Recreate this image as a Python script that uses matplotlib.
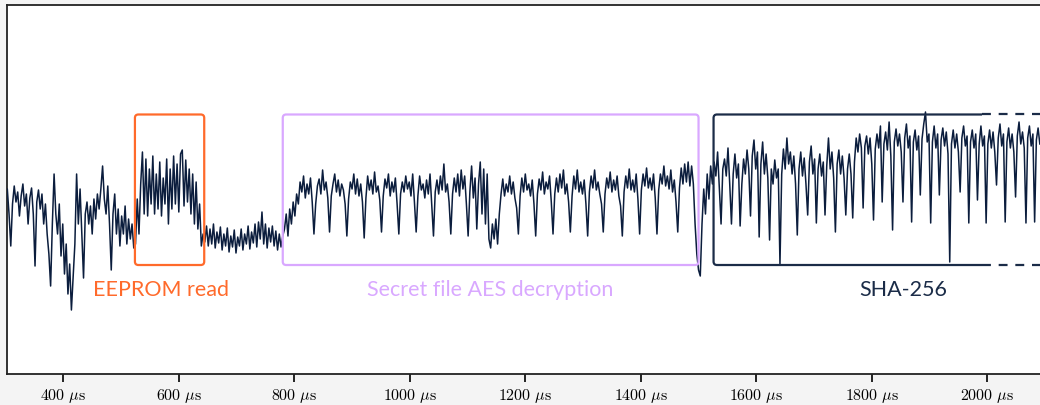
import numpy as np
import matplotlib.pyplot as plt
from matplotlib.patches import FancyBboxPatch, Rectangle

# Power trace (arbitrary units), one sample every 3 us
step_us = 3

pre_start = 300
pre_vals = [165, 185, 160, 128, 170, 188, 172, 182, 158, 178, 190, 168, 180, 150, 176,
            186, 160, 108, 172, 184, 165, 180, 150, 170, 140, 120, 88, 150, 200, 160,
            140, 170, 118, 150, 100, 130, 80, 110, 64, 98, 130, 200, 150, 185, 140,
            96, 160, 172, 150, 168, 140, 175, 155, 180, 165, 185, 208, 175, 160, 188,
            150, 104, 160, 180, 140, 165, 128, 158, 140, 168, 130, 155, 135, 150, 126]

eeprom_start = 525
eeprom_vals = [130, 175, 140, 190, 222, 160, 215, 158, 205, 170, 218, 160, 200, 165, 212,
               158, 196, 170, 215, 150, 205, 165, 218, 170, 210, 162, 220, 224, 168, 214,
               172, 205, 160, 200, 150, 192, 145, 170, 128, 140]

idle_start = 645
idle_vals = [132, 148, 128, 145, 130, 150, 126, 142, 131, 147, 124, 140, 128, 146, 122,
             138, 127, 144, 121, 137, 128, 145, 124, 140, 130, 148, 125, 142, 131, 150,
             127, 152, 135, 162, 130, 150, 126, 146, 132, 148, 128, 143, 124, 140, 127, 138]

aes_start = 783
aes_vals = [145, 160, 138, 165, 150, 172, 158, 180, 170, 192,
            182, 198, 176, 190, 180, 196, 172, 140, 170, 188,
            195, 180, 204, 184, 192, 176, 142, 178, 190, 200,
            182, 194, 178, 190, 184, 170, 138, 175, 192, 185,
            200, 180, 195, 178, 190, 172, 136, 176, 198, 184,
            194, 180, 202, 182, 188, 174, 142, 178, 195, 186,
            200, 178, 192, 182, 196, 170, 140, 180, 192, 182,
            198, 185, 192, 178, 200, 172, 142, 178, 198, 184,
            190, 176, 194, 180, 200, 168, 138, 182, 194, 180,
            198, 184, 210, 182, 190, 172, 140, 180, 196, 182,
            200, 178, 204, 185, 198, 170, 138, 182, 208, 176,
            196, 145, 190, 212, 160, 205, 150, 200, 135, 126,
            150, 135, 155, 130, 160, 180, 195, 178, 190, 182,
            198, 180, 192, 176, 166, 140, 178, 196, 182, 200,
            184, 190, 178, 194, 170, 138, 180, 195, 184, 202,
            180, 192, 185, 198, 172, 140, 180, 196, 182, 200,
            186, 204, 180, 190, 172, 142, 178, 198, 185, 204,
            182, 192, 180, 194, 170, 138, 182, 198, 186, 204,
            184, 192, 180, 170, 142, 180, 196, 186, 202, 182,
            194, 184, 198, 178, 168, 138, 182, 198, 186, 205,
            184, 194, 182, 200, 175, 140, 184, 200, 188, 206,
            186, 196, 184, 200, 176, 140, 184, 200, 190, 208,
            188, 198, 185, 204, 182, 194, 172, 142, 186, 206,
            190, 210, 192, 212, 188, 208, 190, 150, 120, 104]

sha_start = 1503
sha_vals = [98, 150, 185, 160, 200, 175, 208, 190, 212, 198, 222, 185, 150, 205, 215,
            198, 226, 190, 150, 200, 220, 196, 210, 148, 190, 215, 200, 224, 205, 158,
            218, 234, 205, 222, 137, 210, 232, 200, 220, 196, 134, 205, 190, 214, 196,
            205, 110, 200, 225, 205, 236, 210, 222, 200, 218, 190, 139, 205, 222, 198,
            216, 190, 159, 212, 228, 200, 215, 151, 205, 220, 198, 212, 159, 208, 236,
            205, 222, 196, 142, 210, 224, 200, 218, 196, 159, 205, 220, 200, 156, 212,
            236, 222, 240, 226, 166, 228, 238, 220, 236, 210, 154, 225, 240, 226, 248,
            172, 230, 242, 224, 252, 218, 144, 232, 245, 228, 240, 222, 172, 236, 250,
            226, 238, 152, 232, 244, 224, 238, 179, 235, 250, 262, 232, 240, 151, 232,
            248, 226, 240, 179, 234, 246, 228, 242, 220, 112, 230, 244, 226, 240, 222,
            182, 236, 248, 228, 238, 151, 232, 244, 226, 240, 174, 230, 248, 228, 238,
            151, 230, 244, 226, 242, 222, 189, 236, 250, 228, 240, 152, 232, 246, 226,
            240, 222, 177, 238, 252, 230, 242, 226, 151, 236, 248, 228, 240, 152, 234,
            246, 230]

# Phases of the operation (start, end in us)
phases = ['EEPROM read', 'Secret file AES decryption', 'SHA-256']
phase_start = [524, 780, 1526]
phase_end = [644, 1500, 1991]
phase_colors = ['#ff6a2b', '#d9a8ff', '#1b2c48']
label_x = [569, 1139, 1854]

xticks = [400, 600, 800, 1000, 1200, 1400, 1600, 1800, 2000]

# Build one continuous trace from the segments
segments = [(pre_start, pre_vals), (eeprom_start, eeprom_vals), (idle_start, idle_vals),
            (aes_start, aes_vals), (sha_start, sha_vals)]
t = np.concatenate([s + step_us * np.arange(len(v)) for s, v in segments])
y = np.concatenate([np.array(v, dtype=float) for s, v in segments])

plt.rcParams['mathtext.fontset'] = 'cm'

fig = plt.figure(figsize=(10.4, 4.05), dpi=100, facecolor='#f4f4f4')
ax = fig.add_axes([0.00625, 0.0765, 0.99375, 0.9112])
ax.set_facecolor('white')

ax.plot(t, y, color='#0b1d3d', linewidth=1.1, zorder=3)

ax.set_xlim(301.6, 2091.3)
ax.set_ylim(0, 369)

# Boxes around each phase
box_bottom, box_top = 109, 259.5
px_per_us = 0.5775
for i, name in enumerate(phases):
    x0 = phase_start[i]
    x1 = phase_end[i] if i < 2 else 2300
    box = FancyBboxPatch((x0, box_bottom), x1 - x0, box_top - box_bottom,
                         boxstyle='round,pad=0,rounding_size=6',
                         mutation_aspect=px_per_us,
                         facecolor='none', edgecolor=phase_colors[i],
                         linewidth=1.6, zorder=4)
    ax.add_patch(box)
    if i == 2:
        # solid part stops, then dashed top/bottom continue off to the right
        clip = Rectangle((1400, 0), phase_end[i] - 1400, 369, transform=ax.transData)
        box.set_clip_path(clip)
        ax.plot([phase_end[i], 2100], [box_top, box_top], color=phase_colors[i],
                linewidth=1.6, linestyle=(0, (4, 3.5)), zorder=4)
        ax.plot([phase_end[i], 2100], [box_bottom, box_bottom], color=phase_colors[i],
                linewidth=1.6, linestyle=(0, (4, 3.5)), zorder=4)
    ax.text(label_x[i], 84, name, color=phase_colors[i], fontsize=15.5,
            family='Lato', ha='center', va='center')

# Axis styling
ax.set_xticks(xticks)
ax.set_xticklabels([r'$%d\ \mu\mathrm{s}$' % v for v in xticks], fontsize=11.5)
ax.tick_params(axis='x', direction='out', length=6, width=1.2, pad=3)
ax.set_yticks([])
ax.spines['right'].set_visible(False)
for s in ['left', 'top', 'bottom']:
    ax.spines[s].set_linewidth(1.3)
    ax.spines[s].set_color('#222222')

plt.savefig('out.png', dpi=100, facecolor=fig.get_facecolor())
